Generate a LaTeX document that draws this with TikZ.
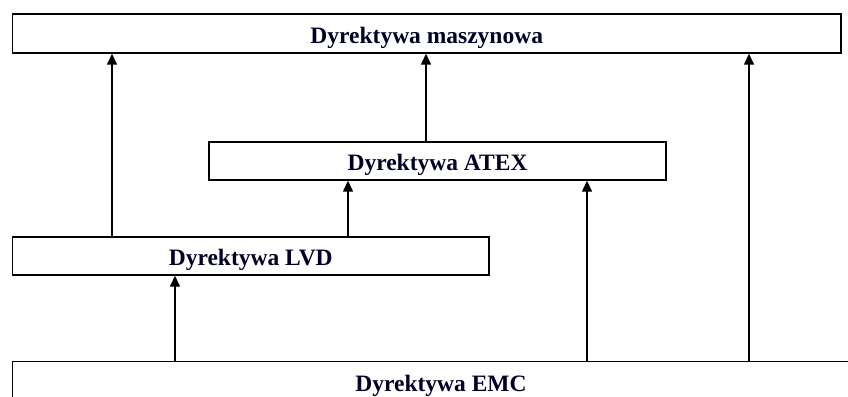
\documentclass[tikz,border=0pt]{standalone}
\usepackage{fontspec}
\setmainfont{Liberation Serif}
\usetikzlibrary{arrows.meta}
\begin{document}
\begin{tikzpicture}[x=1pt,y=-1pt,
  dirbox/.style={draw=black,line width=1.4pt,rectangle,inner sep=0pt,
    text height=24pt,text depth=4.4pt,
    font=\fontsize{23.5}{26}\selectfont\bfseries,text=black!85!blue},
  arr/.style={line width=1.4pt,-{Triangle[length=11pt,width=10pt]}}]
\useasboundingbox (0,0) rectangle (848,396);
\node[dirbox,minimum width=828.5pt,minimum height=39pt] (masz) at (426.75,33.5) {Dyrektywa maszynowa};
\node[dirbox,minimum width=457pt,minimum height=38pt] (atex) at (437.5,161) {Dyrektywa ATEX};
\node[dirbox,minimum width=476.5pt,minimum height=38pt] (lvd) at (250.75,256) {Dyrektywa LVD};
\node[dirbox,minimum width=857pt,minimum height=41pt] (emc) at (441,382) {Dyrektywa EMC};
\coordinate (xa) at (112,0);
\coordinate (xb) at (426,0);
\coordinate (xc) at (749,0);
\coordinate (xd) at (348,0);
\coordinate (xe) at (587,0);
\coordinate (xf) at (175,0);
\draw[arr] (lvd.north -| xa) -- (masz.south -| xa);
\draw[arr] (atex.north -| xb) -- (masz.south -| xb);
\draw[arr] (emc.north -| xc) -- (masz.south -| xc);
\draw[arr] (lvd.north -| xd) -- (atex.south -| xd);
\draw[arr] (emc.north -| xe) -- (atex.south -| xe);
\draw[arr] (emc.north -| xf) -- (lvd.south -| xf);
\end{tikzpicture}
\end{document}
